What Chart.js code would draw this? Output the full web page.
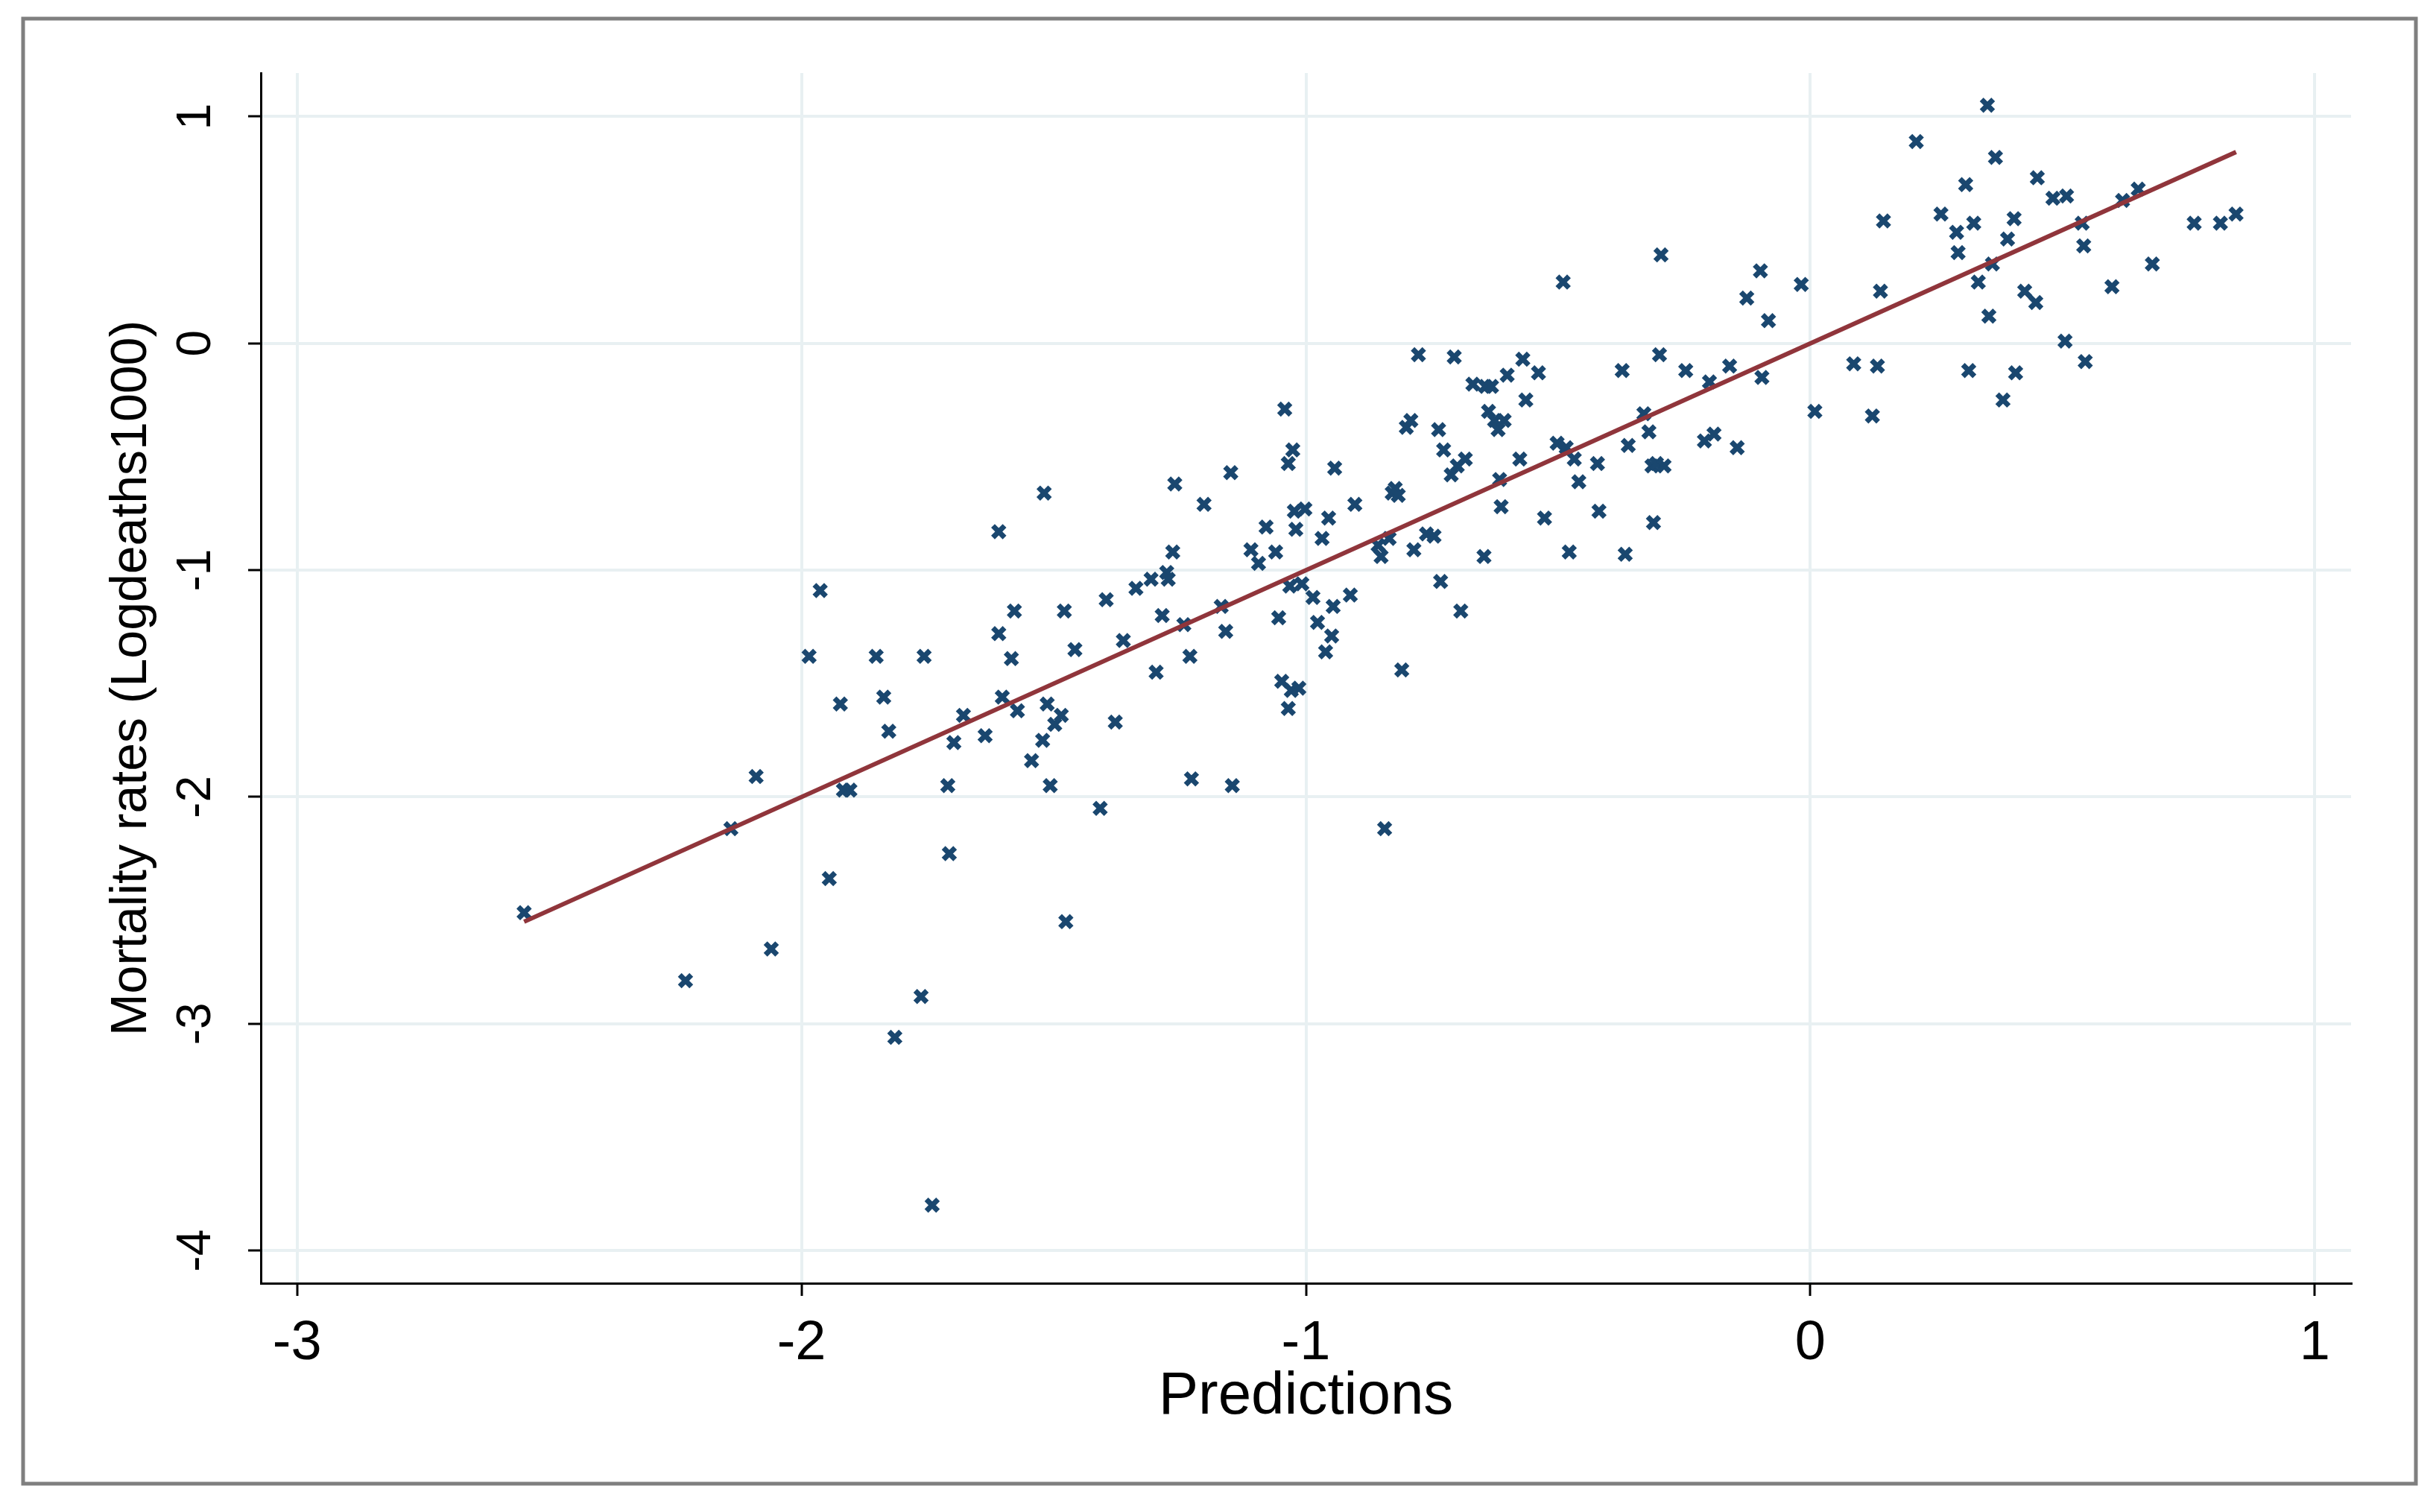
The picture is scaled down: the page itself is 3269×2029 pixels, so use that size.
<!DOCTYPE html>
<html>
<head>
<meta charset="utf-8">
<script src="https://cdn.jsdelivr.net/npm/chart.js@4.4.1/dist/chart.umd.min.js"></script>
<style>
  html,body{margin:0;padding:0;background:#fff;}
  canvas{display:block;}
</style>
</head>
<body>
<canvas id="scatter" width="3269" height="2029"></canvas>
<script>
// predictions (x) and log deaths per 1000 (y)
const predX = [
  -2.55,-2.23,-2.14,-2.09,-2.06,-1.985,-1.963,-1.945,-1.923,-1.917,-1.904,-1.852,-1.837,-1.827,-1.815,-1.763,
  -1.757,-1.741,-1.710,-1.707,-1.698,-1.679,-1.636,-1.609,-1.609,-1.602,-1.584,-1.578,-1.572,-1.544,-1.519,-1.522,
  -1.513,-1.507,-1.498,-1.485,-1.479,-1.476,-1.458,-1.408,-1.396,-1.378,-1.362,-1.337,-1.307,-1.297,-1.285,-1.276,
  -1.273,-1.264,-1.260,-1.242,-1.230,-1.227,-1.202,-1.168,-1.159,-1.149,-1.146,-1.109,-1.094,-1.079,-1.060,-1.054,
  -1.048,-1.042,-1.035,-1.035,-1.032,-1.029,-1.026,-1.023,-1.020,-1.014,-1.008,-1.002,-0.986,-0.977,-0.968,-0.961,
  -0.955,-0.949,-0.946,-0.943,-0.912,-0.903,-0.857,-0.851,-0.844,-0.835,-0.829,-0.823,-0.817,-0.810,-0.801,-0.792,
  -0.786,-0.777,-0.761,-0.746,-0.737,-0.733,-0.727,-0.712,-0.706,-0.700,-0.693,-0.684,-0.669,-0.647,-0.644,-0.638,
  -0.632,-0.626,-0.619,-0.616,-0.613,-0.607,-0.601,-0.576,-0.570,-0.564,-0.539,-0.527,-0.502,-0.490,-0.484,-0.478,
  -0.468,-0.459,-0.422,-0.419,-0.373,-0.367,-0.361,-0.330,-0.320,-0.314,-0.311,-0.305,-0.299,-0.296,-0.290,-0.247,
  -0.210,-0.200,-0.191,-0.160,-0.145,-0.126,-0.099,-0.096,-0.083,-0.018,0.009,0.086,0.123,0.133,0.139,0.145,
  0.210,0.259,0.290,0.293,0.308,0.314,0.324,0.333,0.351,0.354,0.361,0.367,0.382,0.391,0.404,0.407,
  0.425,0.447,0.450,0.481,0.505,0.508,0.539,0.542,0.545,0.598,0.619,0.650,0.678,0.761,0.813,0.844
];
const mortY = [
  -2.51,-2.81,-2.14,-1.91,-2.67,-1.38,-1.09,-2.36,-1.59,-1.97,-1.97,-1.38,-1.56,-1.71,-3.06,-2.88,
  -1.38,-3.80,-1.95,-2.25,-1.76,-1.64,-1.73,-0.83,-1.28,-1.56,-1.39,-1.18,-1.62,-1.84,-0.66,-1.75,
  -1.59,-1.95,-1.68,-1.64,-1.18,-2.55,-1.35,-2.05,-1.13,-1.67,-1.31,-1.08,-1.04,-1.45,-1.20,-1.01,
  -1.04,-0.92,-0.62,-1.24,-1.38,-1.92,-0.71,-1.16,-1.27,-0.57,-1.95,-0.91,-0.97,-0.81,-0.92,-1.21,
  -1.49,-0.29,-1.61,-0.53,-1.07,-1.53,-0.47,-0.74,-0.82,-1.52,-1.06,-0.73,-1.12,-1.23,-0.86,-1.36,
  -0.77,-1.29,-1.16,-0.55,-1.11,-0.71,-0.89,-0.94,-2.14,-0.86,-0.66,-0.64,-0.67,-1.44,-0.37,-0.34,
  -0.91,-0.05,-0.84,-0.85,-0.38,-1.05,-0.47,-0.58,-0.06,-0.54,-1.18,-0.51,-0.18,-0.94,-0.19,-0.30,
  -0.19,-0.34,-0.38,-0.60,-0.72,-0.34,-0.14,-0.51,-0.07,-0.25,-0.13,-0.77,-0.44,0.27,-0.46,-0.92,
  -0.51,-0.61,-0.53,-0.74,-0.12,-0.93,-0.45,-0.31,-0.39,-0.54,-0.79,-0.53,-0.05,0.39,-0.54,-0.12,
  -0.43,-0.17,-0.40,-0.10,-0.46,0.20,0.32,-0.15,0.10,0.26,-0.30,-0.09,-0.32,-0.10,0.23,0.54,
  0.89,0.57,0.49,0.40,0.70,-0.12,0.53,0.27,1.05,0.12,0.35,0.82,-0.25,0.46,0.55,-0.13,
  0.23,0.18,0.73,0.64,0.01,0.65,0.53,0.43,-0.08,0.25,0.63,0.68,0.35,0.53,0.53,0.57
];
// fitted line end points
const fitX = [-2.55, 0.844];
const fitY = [-2.55, 0.844];

const xTicks = [-3, -2, -1, 0, 1];
const yTicks = [-4, -3, -2, -1, 0, 1];

const points = predX.map((x, i) => ({x: x, y: mortY[i]}));
const fitLine = fitX.map((x, i) => ({x: x, y: fitY[i]}));

const frame = {
  id: 'frame',
  beforeDraw(chart){
    const ctx = chart.ctx;
    ctx.save();
    ctx.fillStyle = '#ffffff';
    ctx.fillRect(0, 0, chart.width, chart.height);
    ctx.strokeStyle = '#7f7f7f';
    ctx.lineWidth = 5;
    ctx.strokeRect(31, 25, 3211, 1966);
    ctx.restore();
  }
};

const font = 'Liberation Sans, Arial, sans-serif';

new Chart(document.getElementById('scatter').getContext('2d'), {
  type: 'scatter',
  data: {
    datasets: [
      {
        type: 'line',
        data: fitLine,
        borderColor: '#90353b',
        borderWidth: 6,
        pointRadius: 0,
        fill: false,
        order: 1
      },
      {
        data: points,
        pointStyle: 'crossRot',
        pointRadius: 11,
        borderColor: '#1a476f',
        backgroundColor: '#1a476f',
        pointBorderWidth: 7,
        order: 2
      }
    ]
  },
  options: {
    responsive: false,
    animation: false,
    layout: {padding: {left: 0, top: 98, right: 114, bottom: 0}},
    plugins: {legend: {display: false}, tooltip: {enabled: false}},
    scales: {
      x: {
        type: 'linear',
        min: -3.072,
        max: 1.072,
        afterBuildTicks: s => { s.ticks = xTicks.map(v => ({value: v})); },
        afterFit: s => { s.height = 307; },
        grid: {color: '#e8f0f2', lineWidth: 4, tickColor: '#000', tickLength: 17, tickWidth: 3},
        border: {display: true, color: '#000', width: 3},
        ticks: {color: '#000', font: {family: font, size: 74}, padding: 20, maxRotation: 0},
        title: {display: true, text: 'Predictions', color: '#000', font: {family: font, size: 80}, padding: {top: 0, bottom: 106}}
      },
      y: {
        type: 'linear',
        min: -4.144,
        max: 1.192,
        afterBuildTicks: s => { s.ticks = yTicks.map(v => ({value: v})); },
        afterFit: s => { s.width = 350; },
        grid: {color: '#e8f0f2', lineWidth: 4, tickColor: '#000', tickLength: 17, tickWidth: 3},
        border: {display: true, color: '#000', width: 3},
        ticks: {color: '#000', font: {family: font, size: 64}, padding: 40, minRotation: 90, maxRotation: 90, crossAlign: 'center'},
        title: {display: true, text: 'Mortality rates (Logdeaths1000)', color: '#000', font: {family: font, size: 68}, padding: {top: 136, bottom: 0}}
      }
    }
  },
  plugins: [frame]
});
</script>
</body>
</html>
